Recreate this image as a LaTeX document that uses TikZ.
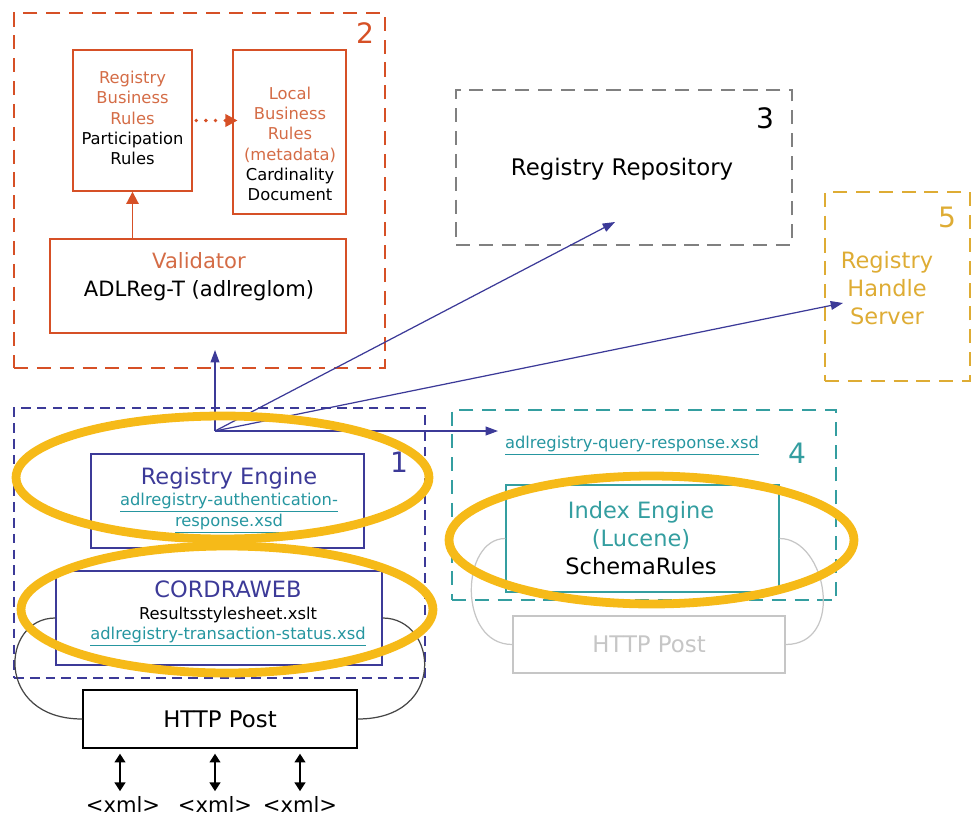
\documentclass[tikz,border=0pt]{standalone}
\usepackage{fontspec}
\setmainfont{DejaVu Sans}
\usepackage{tikz}
\usetikzlibrary{shapes.geometric,arrows.meta}

\definecolor{rust}{RGB}{214,80,38}
\definecolor{rusttext}{RGB}{212,108,70}
\definecolor{navy}{RGB}{60,58,152}
\definecolor{linkteal}{RGB}{38,150,160}
\definecolor{seateal}{RGB}{52,158,160}
\definecolor{goldbox}{RGB}{222,172,52}
\definecolor{goldring}{RGB}{246,186,24}
\definecolor{greybox}{RGB}{128,128,128}
\definecolor{faint}{RGB}{198,198,198}
\definecolor{darkloop}{RGB}{70,70,70}

\newcommand{\lnk}[1]{\textcolor{linkteal}{\underline{#1}}}

\begin{document}
\begin{tikzpicture}[x=0.02cm,y=-0.02cm,
 region/.style={draw,dash pattern=on 8pt off 5pt,line width=1.2pt,inner sep=0pt},
 box/.style={draw,line width=0.8pt,inner sep=0pt},
 small/.style={font=\fontsize{9.3}{11.5}\selectfont,align=center},
 big/.style={font=\fontsize{12.8}{16}\selectfont,align=center},
 num/.style={font=\fontsize{16}{18}\selectfont},
 ring/.style={ellipse,draw=goldring,line width=5pt,inner sep=0pt},
 feed/.style={draw=navy,line width=0.7pt,-{Triangle[length=7pt,width=5pt]}},
 loopline/.style={line width=0.7pt},
 dbl/.style={line width=1.4pt,{Triangle[length=5pt,width=6pt]}-{Triangle[length=5pt,width=6pt]}}
]
\useasboundingbox (0,0) rectangle (973,818);

\node[region,draw=rust,minimum width=7.42cm,minimum height=7.1cm] (reg2) at (199.5,190.5) {};
\node[num,text=rust] (n2) at (365,33) {2};
\node[box,draw=rust,minimum width=2.38cm,minimum height=2.82cm] (rules) at (132.5,120.5) {};
\node[small] (rulestxt) at (132.5,118) {\textcolor{rusttext}{Registry}\\ \textcolor{rusttext}{Business}\\ \textcolor{rusttext}{Rules}\\ Participation\\ Rules};
\node[box,draw=rust,minimum width=2.26cm,minimum height=3.28cm] (local) at (289.5,132) {};
\node[small] (localtxt) at (290,144) {\textcolor{rusttext}{Local}\\ \textcolor{rusttext}{Business}\\ \textcolor{rusttext}{Rules}\\ \textcolor{rusttext}{(metadata)}\\ Cardinality\\ Document};
\node[box,draw=rust,minimum width=5.92cm,minimum height=1.88cm] (valid) at (198,286) {};
\node[font=\fontsize{12}{16}\selectfont,align=center] (validtxt) at (199,277) {\textcolor{rusttext}{Validator}\\ ADLReg-T (adlreglom)};
\draw[rust,line width=1.1pt,-{Triangle[length=7pt,width=7pt]}] (valid.north -| rules.south) -- (rules.south);
\draw[rust,line width=2.2pt,line cap=round,dash pattern=on 0pt off 5.5pt,-{Triangle[length=7pt,width=7pt]}] ([xshift=2pt]rules.east) -- ([xshift=3pt]rules.east -| local.west);

\node[region,draw=greybox,minimum width=6.72cm,minimum height=3.1cm] (reg3) at (624,167.5) {};
\node[num] (n3) at (765,118) {3};
\node[font=\fontsize{13}{15}\selectfont] (repo) at (622,169) {Registry Repository};

\node[region,draw=goldbox,minimum width=2.9cm,minimum height=3.78cm] (reg5) at (897.5,286.5) {};
\node[num,text=goldbox] (n5) at (947,217) {5};
\node[big,text=goldbox] (handle) at (887,288) {Registry\\ Handle\\ Server};

\node[region,draw=navy,dash pattern=on 5.5pt off 3.5pt,line width=0.8pt,minimum width=8.22cm,minimum height=5.4cm] (reg1) at (219.5,543) {};
\node[num,text=navy] (n1) at (399,462) {1};
\node[box,draw=navy,minimum width=5.46cm,minimum height=1.88cm] (engine) at (227.5,501) {};
\node[small] (enginetxt) at (229,500) {\textcolor{navy}{\fontsize{12.8}{15}\selectfont Registry Engine}\\[1pt] \lnk{adlregistry-authentication-}\\ \lnk{response.xsd}};
\node[box,draw=navy,minimum width=6.52cm,minimum height=1.88cm] (cordra) at (219,618) {};
\node[small] (cordratxt) at (228,614) {\textcolor{navy}{\fontsize{12.8}{15}\selectfont CORDRAWEB}\\[1pt] Resultsstylesheet.xslt\\ \lnk{adlregistry-transaction-status.xsd}};
\node[box,draw=black,minimum width=5.48cm,minimum height=1.16cm,font=\fontsize{13}{15}\selectfont] (post) at (220,719) {HTTP Post};
\draw[loopline,darkloop] (cordra.west) .. controls +(-55,0) and +(-88,0) .. (post.west);
\draw[loopline,darkloop] (cordra.east) .. controls +(55,0) and +(90,0) .. (post.east);

\node[font=\fontsize{12}{14}\selectfont,inner sep=0pt] (xmlA) at (123,804) {<xml>};
\node[font=\fontsize{12}{14}\selectfont,inner sep=0pt] (xmlB) at (215,804) {<xml>};
\node[font=\fontsize{12}{14}\selectfont,inner sep=0pt] (xmlC) at (300,804) {<xml>};
\foreach \x/\n in {120/xmlA,215/xmlB,300/xmlC}
  \draw[dbl,shorten <=2.8pt,shorten >=2.5pt] (post.south -| \x,0) -- (\n.north -| \x,0);

\node[region,draw=seateal,minimum width=7.68cm,minimum height=3.8cm] (reg4) at (644,505) {};
\node[num,text=seateal] (n4) at (797,453) {4};
\node[small] (query) at (632,446) {\lnk{adlregistry-query-response.xsd}};
\node[box,draw=seateal,minimum width=5.46cm,minimum height=2.14cm] (index) at (642.5,538.5) {};
\node[big] (indextxt) at (641,538) {\textcolor{seateal}{Index Engine}\\ \textcolor{seateal}{(Lucene)}\\ SchemaRules};
\node[box,draw=faint,text=faint,minimum width=5.44cm,minimum height=1.14cm,font=\fontsize{13}{15}\selectfont] (post2) at (649,644.5) {\raisebox{-3pt}{HTTP Post}};
\draw[loopline,faint] (index.west) .. controls +(-45,0) and +(-55,0) .. (post2.west);
\draw[loopline,faint] (index.east) .. controls +(47,0) and +(60,0) .. (post2.east);

\coordinate (hub) at (215,431);
\coordinate (valin) at (215,350);
\coordinate (repoin) at (615,222);
\coordinate (handlein) at (843,303);
\coordinate (queryin) at (498,431);
\draw[feed] (hub) -- (valin);
\draw[feed] (hub) -- (repoin);
\draw[feed] (hub) -- (handlein);
\draw[feed] (hub) -- (queryin);

\node[ring,minimum width=8.26cm,minimum height=2.46cm] (ring1) at (222.5,477.5) {};
\node[ring,minimum width=8.24cm,minimum height=2.54cm] (ring2) at (227,609.5) {};
\node[ring,minimum width=8.1cm,minimum height=2.56cm] (ring3) at (651.5,540) {};
\end{tikzpicture}
\end{document}
